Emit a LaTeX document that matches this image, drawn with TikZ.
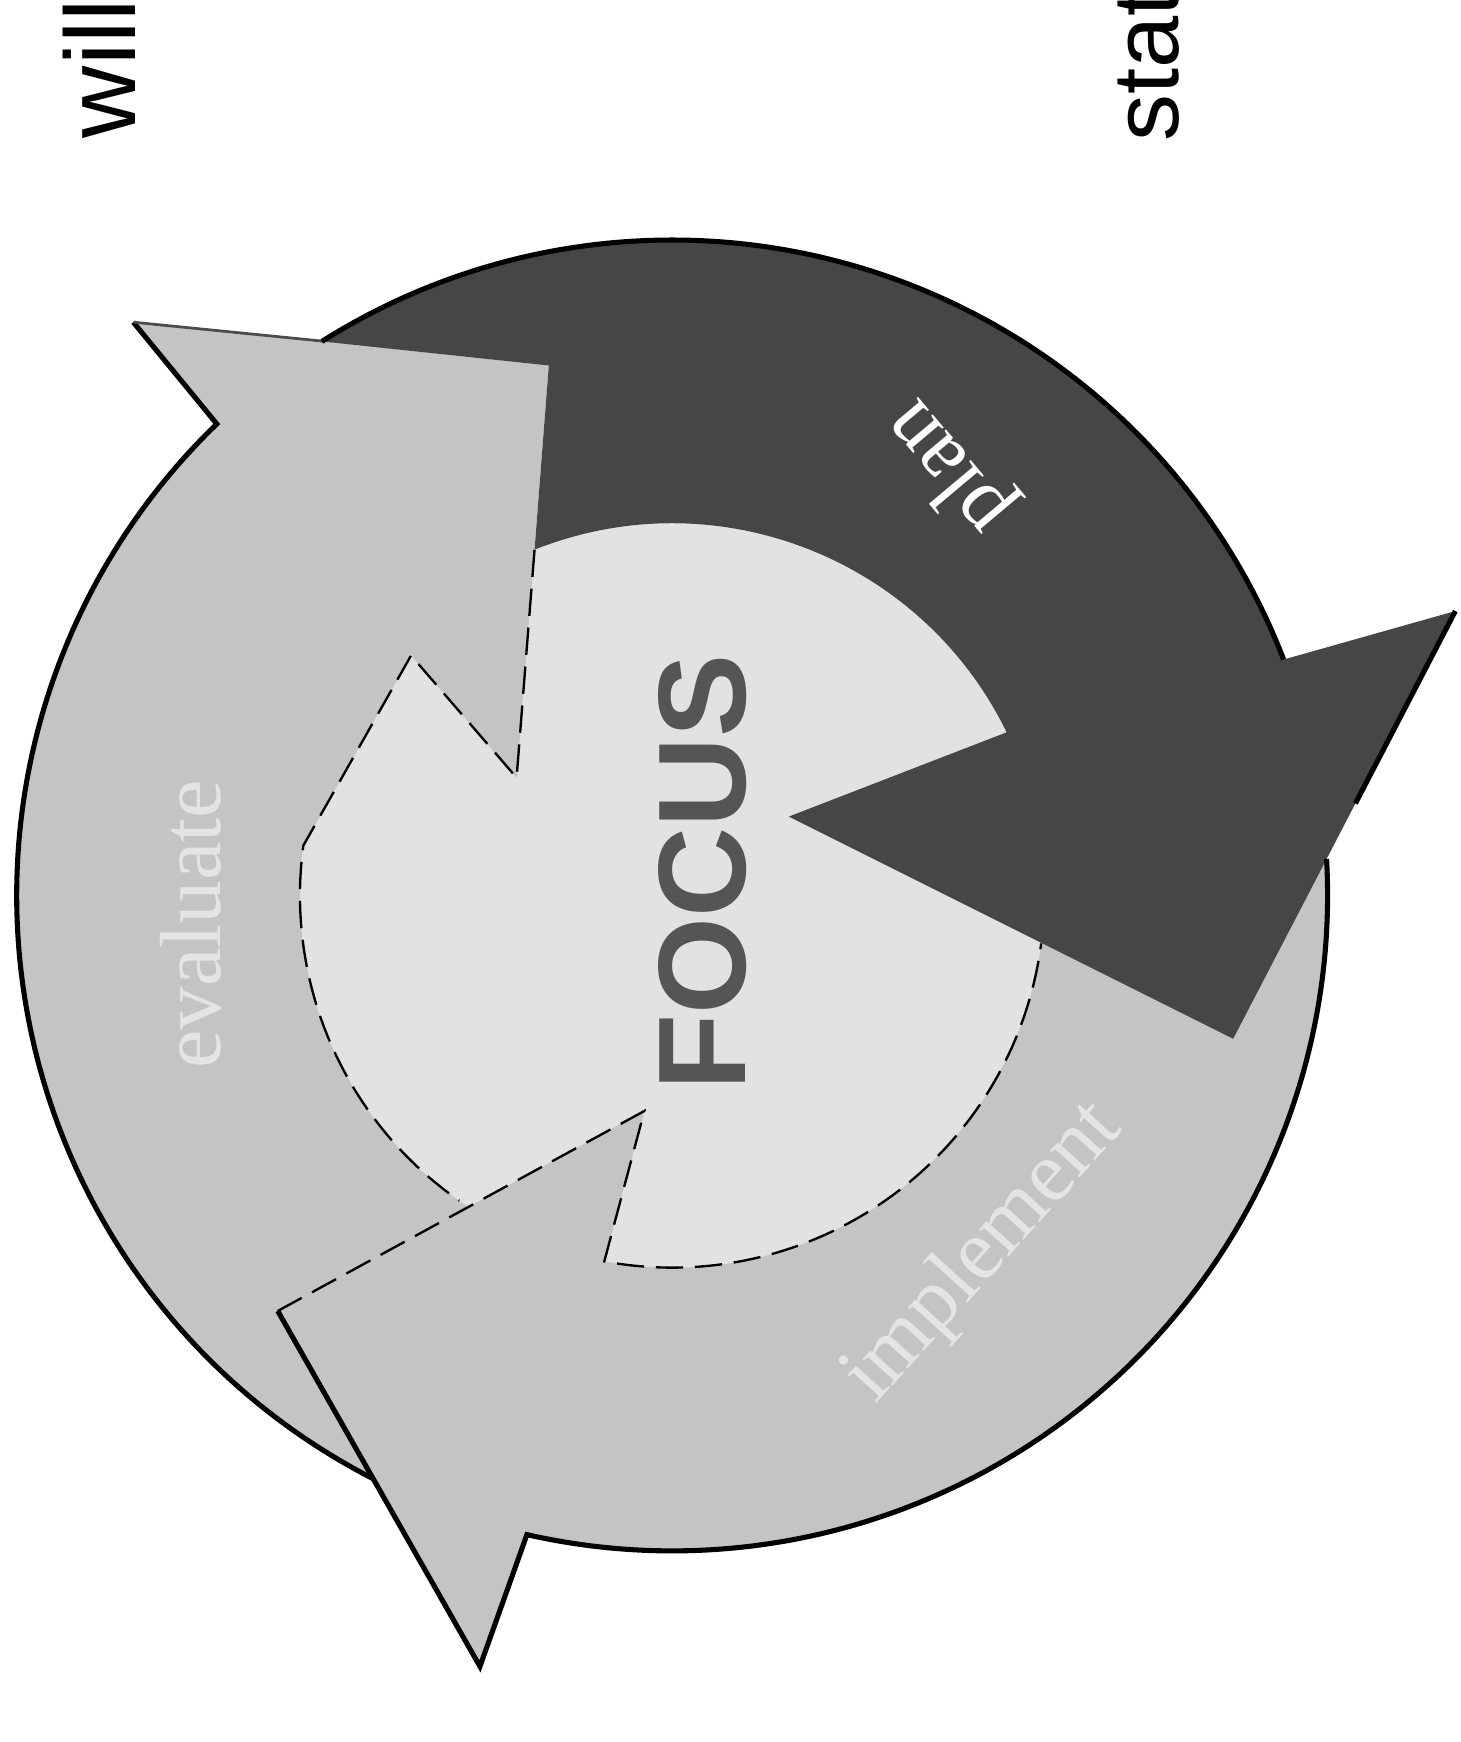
\documentclass[tikz,border=0pt]{standalone}
\usepackage{fontspec}
\setmainfont{Liberation Serif}
\newfontfamily\cyclesans{Liberation Sans}
\usepackage{tikz}
\usetikzlibrary{calc}
\definecolor{cycledark}{RGB}{70,70,70}
\definecolor{cyclelight}{RGB}{196,196,196}
\definecolor{cyclecore}{RGB}{226,226,226}
\definecolor{cycletext}{RGB}{85,85,85}
\tikzset{
  %% ---- bands ----
  darkband/.style  = {fill=cycledark, draw=none},
  lightband/.style = {fill=cyclelight, draw=none},
  coredisc/.style  = {fill=cyclecore, draw=none},
  %% ---- edges ----
  rim/.style       = {draw=black, line width=1.3pt},
  rimthin/.style   = {draw=black!70, line width=0.7pt},
  seam/.style      = {draw=black, line width=0.6pt, dash pattern=on 7pt off 3pt},
  %% ---- text ----
  sidetext/.style  = {font=\cyclesans\fontsize{25.6}{30}\selectfont,
                      inner sep=0pt, rotate=90, anchor=base west},
  bandtext/.style  = {font=\fontsize{22.2}{26}\selectfont, inner sep=0pt},
  fainttext/.style = {bandtext, text=cyclelight!45!white},
}

\begin{document}
\begin{tikzpicture}[x=0.01cm, y=-0.01cm]

  \useasboundingbox (0,0) rectangle (1315,1568);

  \coordinate (ctr) at (605,806);

  %% key points of the three arrows
  \coordinate (dstart)  at ($(ctr)+(-111.7:335)$);
  \coordinate (dcut)    at (494,329);
  \coordinate (dtop)    at ($(ctr)+(-122.3:590)$);
  \coordinate (dbarbo)  at (1310,550);
  \coordinate (dtip)    at (1110,935);
  \coordinate (dbarbi)  at (710,735);
  \coordinate (dnotch)  at ($(ctr)+(-26:335)$);

  \coordinate (linner)  at ($(ctr)+(118:335)$);
  \coordinate (louter)  at ($(ctr)+(112:590)$);
  \coordinate (lbarbo)  at (120,290);
  \coordinate (ltop)    at (290,307);
  \coordinate (lcut)    at (465,700);
  \coordinate (lbarbi)  at (370,590);
  \coordinate (lnotch)  at ($(ctr)+(187.7:335)$);

  \coordinate (binner)  at ($(ctr)+(-5:335)$);
  \coordinate (bouter)  at ($(ctr)+(-8:590)$);
  \coordinate (bbarbo)  at (432,1500);
  \coordinate (btip)    at (250,1180);
  \coordinate (bbarbi)  at (580,1000);
  \coordinate (bnotch)  at ($(ctr)+(100.5:335)$);

  %% centre disc
  \path[coredisc] (ctr) circle[radius=335];

  %% left arrow
  \path[lightband] (linner) -- (louter)
    arc[start angle=112, end angle=226, radius=590]
    -- (lbarbo) -- (ltop) -- (dcut) -- (lcut) -- (lbarbi) -- (lnotch)
    arc[start angle=187.7, end angle=118, radius=335] -- cycle;

  %% lower arrow
  \path[lightband] (binner) -- (bouter)
    arc[start angle=-8, end angle=102.8, radius=590]
    -- (bbarbo) -- (btip) -- (bbarbi) -- (bnotch)
    arc[start angle=100.5, end angle=-5, radius=335] -- cycle;

  %% dark arrow
  \path[darkband] (dstart) -- (dcut) -- (dtop)
    arc[start angle=-122.3, end angle=-21.1, radius=590]
    -- (dbarbo) -- (dtip) -- (dbarbi) -- (dnotch)
    arc[start angle=-26, end angle=-111.7, radius=335] -- cycle;

  %% outer edges
  \draw[rim] ($(ctr)+(117.2:590)$)
    arc[start angle=117.2, end angle=226, radius=590] -- (lbarbo);
  \draw[rimthin] (lbarbo) -- (ltop);
  \draw[rim] (dtop) arc[start angle=-122.3, end angle=-21.1, radius=590];
  \draw[rim] (dbarbo) -- ($(dbarbo)!0.45!(dtip)$);
  \draw[rim] ($(ctr)+(-3.2:590)$)
    arc[start angle=-3.2, end angle=102.8, radius=590] -- (bbarbo) -- (btip);

  %% inner seams
  \draw[seam] (dstart) -- (lcut) -- (lbarbi) -- (lnotch)
    arc[start angle=187.7, end angle=124.9, radius=335];
  \draw[seam] (btip) -- (bbarbi) -- (bnotch)
    arc[start angle=100.5, end angle=7.4, radius=335];

  %% labels
  \node[bandtext, text=white, rotate=130] (plan) at (855,420) {plan};
  \node[fainttext, rotate=90] (evaluate) at (172,832) {evaluate};
  \node[fainttext, rotate=48] (implement) at (886,1128) {implement};
  \node[font=\cyclesans\bfseries\fontsize{31.9}{36}\selectfont, text=cycletext,
        inner sep=0pt, rotate=90, anchor=base west] (focus) at (671,982) {FOCUS};

  \node[sidetext] (will) at (122,125) {will};
  \node[sidetext, font=\cyclesans\fontsize{24}{28}\selectfont] (stat)
    at (1061,128) {stat};

\end{tikzpicture}
\end{document}
